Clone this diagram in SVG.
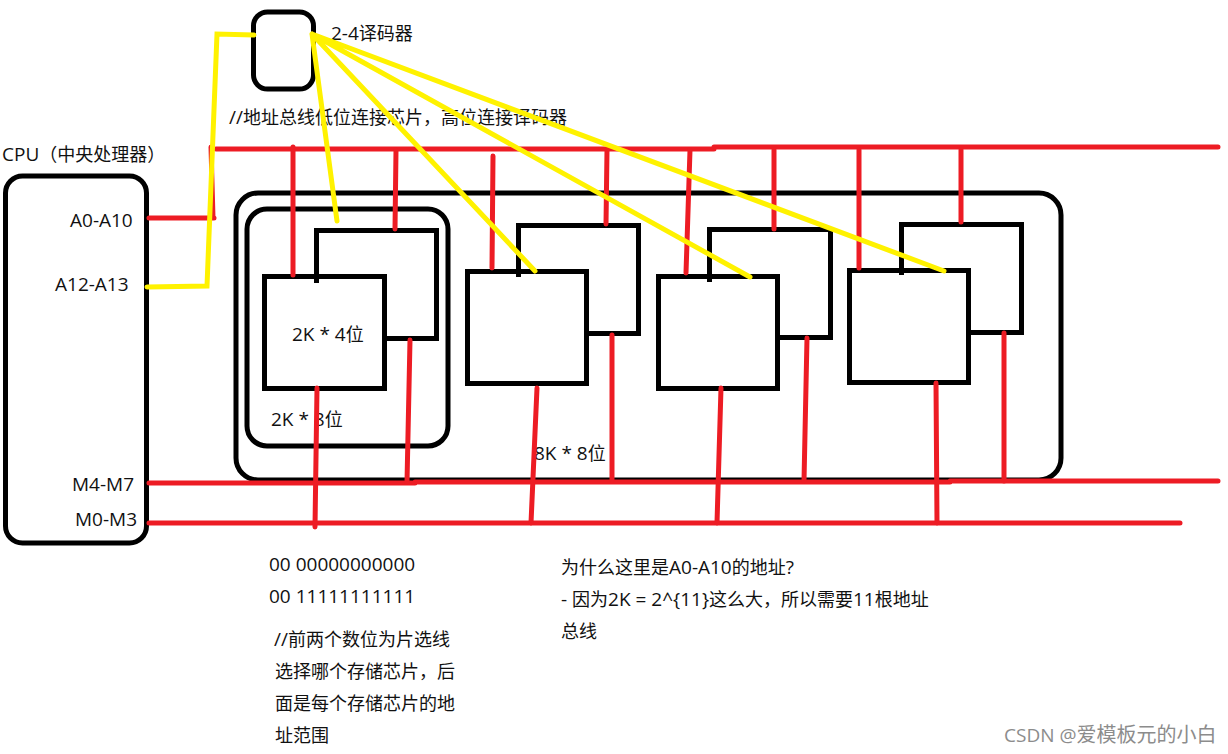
<svg xmlns="http://www.w3.org/2000/svg" width="1228" height="754" viewBox="0 0 1228 754">
<style>
text{font-family:"Noto Sans CJK SC","Noto Sans",sans-serif;font-size:18px;fill:#111}
.l{font-family:"Open Sans","Noto Sans",sans-serif;font-size:19px}
.b{fill:none;stroke:#000;stroke-width:5}
.b4{fill:none;stroke:#000;stroke-width:5;shape-rendering:crispEdges}
.r{fill:none;stroke:#ed1c24;stroke-width:5;stroke-linecap:round}
.y{fill:none;stroke:#fff200;stroke-width:5;stroke-linecap:round;stroke-linejoin:miter}
</style>
<rect width="1228" height="754" fill="#fff"/>
<g id="cpu"><rect class="b" x="5.500" y="176" width="141" height="367" rx="17"/>
<text x="2" y="161"><tspan class="l">CPU</tspan>（中央处理器）</text>
<text class="l" x="70" y="227">A0-A10</text><text class="l" x="55" y="291">A12-A13</text><text class="l" x="72" y="491">M4-M7</text><text class="l" x="75" y="526">M0-M3</text></g>
<g id="decoder"><rect class="b" x="253.500" y="12" width="60" height="77" rx="14"/><text x="331" y="40"><tspan class="l">2-4</tspan>译码器</text></g>
<g id="module-8k"><rect class="b" x="236" y="193" width="825" height="287" rx="22"/><text x="534" y="460"><tspan class="l">8K * 8</tspan>位</text></g>
<g id="module-2k"><rect class="b" x="247" y="209" width="201" height="237" rx="20"/><text x="271" y="426"><tspan class="l">2K * 8</tspan>位</text></g>
<g id="chip1"><path class="b4" d="M316 283V230H436V338H385"/><rect class="b4" x="264" y="276" width="120" height="112"/><text x="292" y="341"><tspan class="l">2K * 4</tspan>位</text></g>
<g id="chip2"><path class="b4" d="M518 277V225H638V333H587"/><rect class="b4" x="467" y="271" width="119" height="112"/></g>
<g id="chip3"><path class="b4" d="M709 282V229H830V337H778"/><rect class="b4" x="658" y="276" width="119" height="112"/></g>
<g id="chip4"><path class="b4" d="M901 275V224H1021V332H969"/><rect class="b4" x="849" y="270" width="119" height="112"/></g>
<g id="notes">
<text x="229" y="124"><tspan class="l">//</tspan>地址总线低位连接芯片，高位连接译码器</text>
<text class="l" x="269" y="571">00 00000000000</text><text class="l" x="269" y="603">00 11111111111</text>
<text x="274" y="646"><tspan class="l">//</tspan>前两个数位为片选线</text><text x="275" y="678">选择哪个存储芯片，后</text><text x="275" y="710">面是每个存储芯片的地</text><text x="275" y="742">址范围</text>
<text x="561" y="574">为什么这里是<tspan class="l">A0-A10</tspan>的地址<tspan class="l">?</tspan></text><text x="561" y="606"><tspan class="l">- </tspan>因为<tspan class="l">2K = 2^{11}</tspan>这么大，所以需要<tspan class="l">11</tspan>根地址</text><text x="561" y="638">总线</text>
<text x="1004" y="742" style="fill:#8c8c8c;font-size:20px"><tspan class="l">CSDN @</tspan>爱模板元的小白</text>
</g>
<g id="connectors">
<path class="r" d="M149 218H214M211 147L213 218M216 149H714M714 147H1218M149 483H415M415 482H950M950 481H1218M149 523H1180"/>
<path class="r" d="M293 147V275M396 150L395 229M493 156L492 268M607 150L606 224M690 150L686 273M774 150V229M859 150V268M961 150V222"/>
<path class="r" d="M317 388L315 527M410 340L407 482M537 388L531 523M612 335V480M721 388L717 523M807 338L804 481M936 383L937 523M1004 333V481"/>
<path class="y" d="M147 287L207 286L217 34L254 35"/>
<path class="y" d="M312 34L337 221M312 34L535 271M312 34L750 277M312 34L944 271"/>
</g>
</svg>
